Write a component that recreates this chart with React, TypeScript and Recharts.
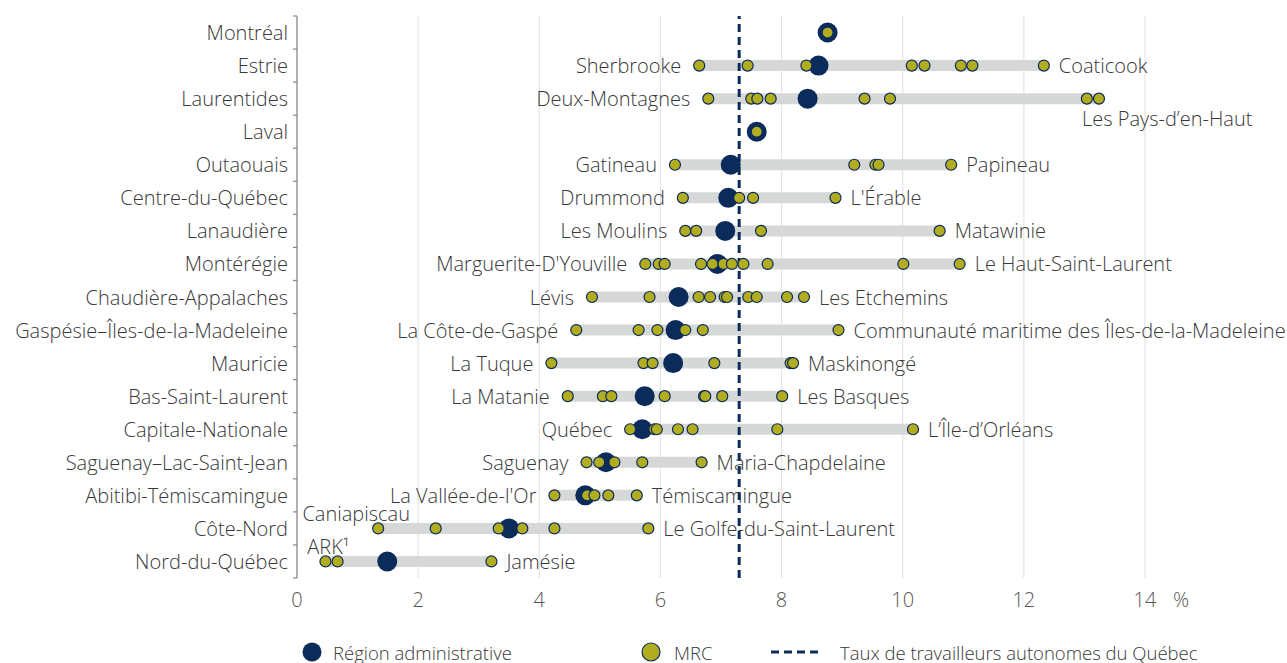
import React from "react";
import {
  ComposedChart,
  Scatter,
  XAxis,
  YAxis,
  CartesianGrid,
  ReferenceLine,
} from "recharts";

// couleurs
const NAVY = "#0b2c5a";
const OLIVE = "#b2ac1f";
const RANGE = "#d6d7d7";
const GRID = "#e4e4e4";
const AXIS = "#888";
const TEXT = "#383838";
const FONT = "'Open Sans', 'DejaVu Sans', sans-serif";
const FS = 20;

// régions administratives (de haut en bas)
const regions = [
  "Montréal",
  "Estrie",
  "Laurentides",
  "Laval",
  "Outaouais",
  "Centre-du-Québec",
  "Lanaudière",
  "Montérégie",
  "Chaudière-Appalaches",
  "Gaspésie–Îles-de-la-Madeleine",
  "Mauricie",
  "Bas-Saint-Laurent",
  "Capitale-Nationale",
  "Saguenay–Lac-Saint-Jean",
  "Abitibi-Témiscamingue",
  "Côte-Nord",
  "Nord-du-Québec",
];

// taux de la région (%)
const regionRates = [
  8.76, 8.61, 8.43, 7.59, 7.16, 7.12, 7.07, 6.94, 6.3, 6.25, 6.21, 5.74, 5.7,
  5.1, 4.76, 3.5, 1.49,
];

// taux des MRC de chaque région (%)
const mrcRates: number[][] = [
  [8.76],
  [6.64, 7.44, 8.41, 10.15, 10.36, 10.96, 11.15, 12.33],
  [6.79, 7.5, 7.6, 7.82, 9.37, 9.79, 13.04, 13.24],
  [7.59],
  [6.24, 9.2, 9.55, 9.6, 10.8],
  [6.37, 7.3, 7.53, 8.89],
  [6.41, 6.59, 7.66, 10.61],
  [5.75, 5.97, 6.07, 6.67, 6.86, 7.04, 7.18, 7.37, 7.77, 10.01, 10.94],
  [4.87, 5.82, 6.63, 6.82, 7.06, 7.1, 7.45, 7.59, 8.09, 8.37],
  [4.61, 5.64, 5.95, 6.41, 6.7, 8.94],
  [4.2, 5.72, 5.87, 6.89, 8.15, 8.19],
  [4.47, 5.05, 5.19, 6.07, 6.72, 6.74, 7.02, 8.01],
  [5.5, 5.9, 5.94, 6.29, 6.53, 7.93, 10.17],
  [4.78, 4.99, 5.24, 5.7, 6.68],
  [4.25, 4.79, 4.91, 5.14, 5.61],
  [1.34, 2.29, 3.33, 3.72, 4.25, 5.8],
  [0.47, 0.67, 3.21],
];

// MRC au minimum / maximum
const minLabels = [
  "", "Sherbrooke", "Deux-Montagnes", "", "Gatineau", "Drummond", "Les Moulins",
  "Marguerite-D'Youville", "Lévis", "La Côte-de-Gaspé", "La Tuque", "La Matanie",
  "Québec", "Saguenay", "La Vallée-de-l'Or", "Caniapiscau", "ARK¹",
];
const maxLabels = [
  "", "Coaticook", "Les Pays-d’en-Haut", "", "Papineau", "L'Érable", "Matawinie",
  "Le Haut-Saint-Laurent", "Les Etchemins",
  "Communauté maritime des Îles-de-la-Madeleine", "Maskinongé", "Les Basques",
  "L’Île-d’Orléans", "Maria-Chapdelaine", "Témiscamingue",
  "Le Golfe-du-Saint-Laurent", "Jamésie",
];

const quebecRate = 7.3;
const xTicks = [0, 2, 4, 6, 8, 10, 12, 14];

const regionPoints = regionRates.map((x, i) => ({ x, y: i }));
const mrcPoints = mrcRates.flatMap((list, i) => list.map((x) => ({ x, y: i })));
// centres des rangées (noms) et limites (petits traits)
const yTicks = [-0.5, ...regions.flatMap((_, i) => [i, i + 0.5])];

type LabelPoint = { x: number; y: number; text: string; side: "min" | "max" };
const labelPoints: LabelPoint[] = [];
mrcRates.forEach((list, i) => {
  if (minLabels[i]) labelPoints.push({ x: Math.min(...list), y: i, text: minLabels[i], side: "min" });
  if (maxLabels[i]) labelPoints.push({ x: Math.max(...list), y: i, text: maxLabels[i], side: "max" });
});

// étiquettes placées autrement
const special: Record<string, { anchor: "start" | "middle" | "end"; dx: number; dy: number }> = {
  "Les Pays-d’en-Haut": { anchor: "start", dx: -17, dy: 20 },
  Caniapiscau: { anchor: "middle", dx: -22, dy: -15 },
  "ARK¹": { anchor: "middle", dx: 3, dy: -15 },
};

const MrcDot = (p: any) => (
  <circle cx={p.cx} cy={p.cy} r={5.5} fill={OLIVE} stroke={NAVY} strokeWidth={1.2} />
);
const RegionDot = (p: any) => <circle cx={p.cx} cy={p.cy} r={10} fill={NAVY} />;

const MrcLabel = (p: any) => {
  const d: LabelPoint = p.payload;
  const s = special[d.text];
  let anchor: "start" | "middle" | "end" = d.side === "min" ? "end" : "start";
  let dx = d.side === "min" ? -18 : 15;
  let dy = 0;
  if (s) {
    anchor = s.anchor;
    dx = s.dx;
    dy = s.dy;
  }
  return (
    <text
      x={p.cx + dx}
      y={p.cy + dy}
      textAnchor={anchor}
      dominantBaseline="central"
      fontSize={FS}
      fontFamily={FONT}
      fontWeight={300}
      fill={TEXT}
    >
      {d.text}
    </text>
  );
};

const YTick = (p: any) => {
  const v: number = p.payload.value;
  if (!Number.isInteger(v)) {
    return <line x1={p.x - 4} x2={p.x} y1={p.y} y2={p.y} stroke={AXIS} strokeWidth={1.2} />;
  }
  return (
    <text
      x={p.x - 9}
      y={p.y}
      textAnchor="end"
      dominantBaseline="central"
      fontSize={FS}
      fontFamily={FONT}
      fontWeight={300}
      fill={TEXT}
    >
      {regions[v]}
    </text>
  );
};

const XTick = (p: any) => {
  const v = p.payload.value;
  return (
    <g>
      <text x={p.x} y={p.y} dy="0.71em" textAnchor="middle" fontSize={FS} fontFamily={FONT} fontWeight={300} fill="#555">
        {v}
      </text>
      {v === 14 && (
        <text x={p.x + 36} y={p.y} dy="0.71em" textAnchor="middle" fontSize={FS} fontFamily={FONT} fontWeight={300} fill="#555">
          %
        </text>
      )}
    </g>
  );
};

function LegendBar() {
  const t = { fontSize: 18.5, fontFamily: FONT, fontWeight: 300, fill: TEXT } as const;
  return (
    <svg width={1287} height={40} style={{ position: "absolute", left: 0, top: 632 }}>
      <circle cx={312} cy={20} r={9.5} fill={NAVY} />
      <text x={333} y={20} dominantBaseline="central" {...t}>Région administrative</text>
      <circle cx={651} cy={20} r={9} fill={OLIVE} stroke={NAVY} strokeWidth={1.2} />
      <text x={674} y={20} dominantBaseline="central" {...t}>MRC</text>
      <line x1={771} x2={822} y1={20} y2={20} stroke={NAVY} strokeWidth={3} strokeDasharray="8 5" />
      <text x={840} y={20} dominantBaseline="central" {...t}>Taux de travailleurs autonomes du Québec</text>
    </svg>
  );
}

export default function App() {
  return (
    <div style={{ position: "absolute", left: 0, top: 0, width: 1287, height: 663, overflow: "hidden", background: "#fff" }}>
      <ComposedChart width={1287} height={663} margin={{ top: 16, right: 142, bottom: 0, left: 0 }}>
        <CartesianGrid vertical horizontal={false} stroke={GRID} strokeWidth={1.2} />
        <XAxis
          type="number"
          dataKey="x"
          domain={[0, 14]}
          ticks={xTicks}
          interval={0}
          axisLine={false}
          tickLine={false}
          tickMargin={9}
          height={85}
          tick={<XTick />}
        />
        <YAxis
          type="number"
          dataKey="y"
          domain={[-0.5, regions.length - 0.5]}
          ticks={yTicks}
          interval={0}
          reversed
          allowDataOverflow
          width={297}
          tickLine={false}
          tickSize={0}
          tickMargin={0}
          axisLine={{ stroke: AXIS, strokeWidth: 1.2 }}
          tick={<YTick />}
        />
        {mrcRates.map((list, i) =>
          list.length > 1 ? (
            <ReferenceLine
              key={i}
              segment={[
                { x: Math.min(...list), y: i },
                { x: Math.max(...list), y: i },
              ]}
              stroke={RANGE}
              strokeWidth={11}
            />
          ) : null
        )}
        <Scatter data={labelPoints} shape={<MrcLabel />} isAnimationActive={false} />
        <Scatter data={regionPoints} shape={<RegionDot />} isAnimationActive={false} />
        <Scatter data={mrcPoints} shape={<MrcDot />} isAnimationActive={false} />
        <ReferenceLine x={quebecRate} stroke={NAVY} strokeWidth={3} strokeDasharray="8 5" />
      </ComposedChart>
      <LegendBar />
    </div>
  );
}
